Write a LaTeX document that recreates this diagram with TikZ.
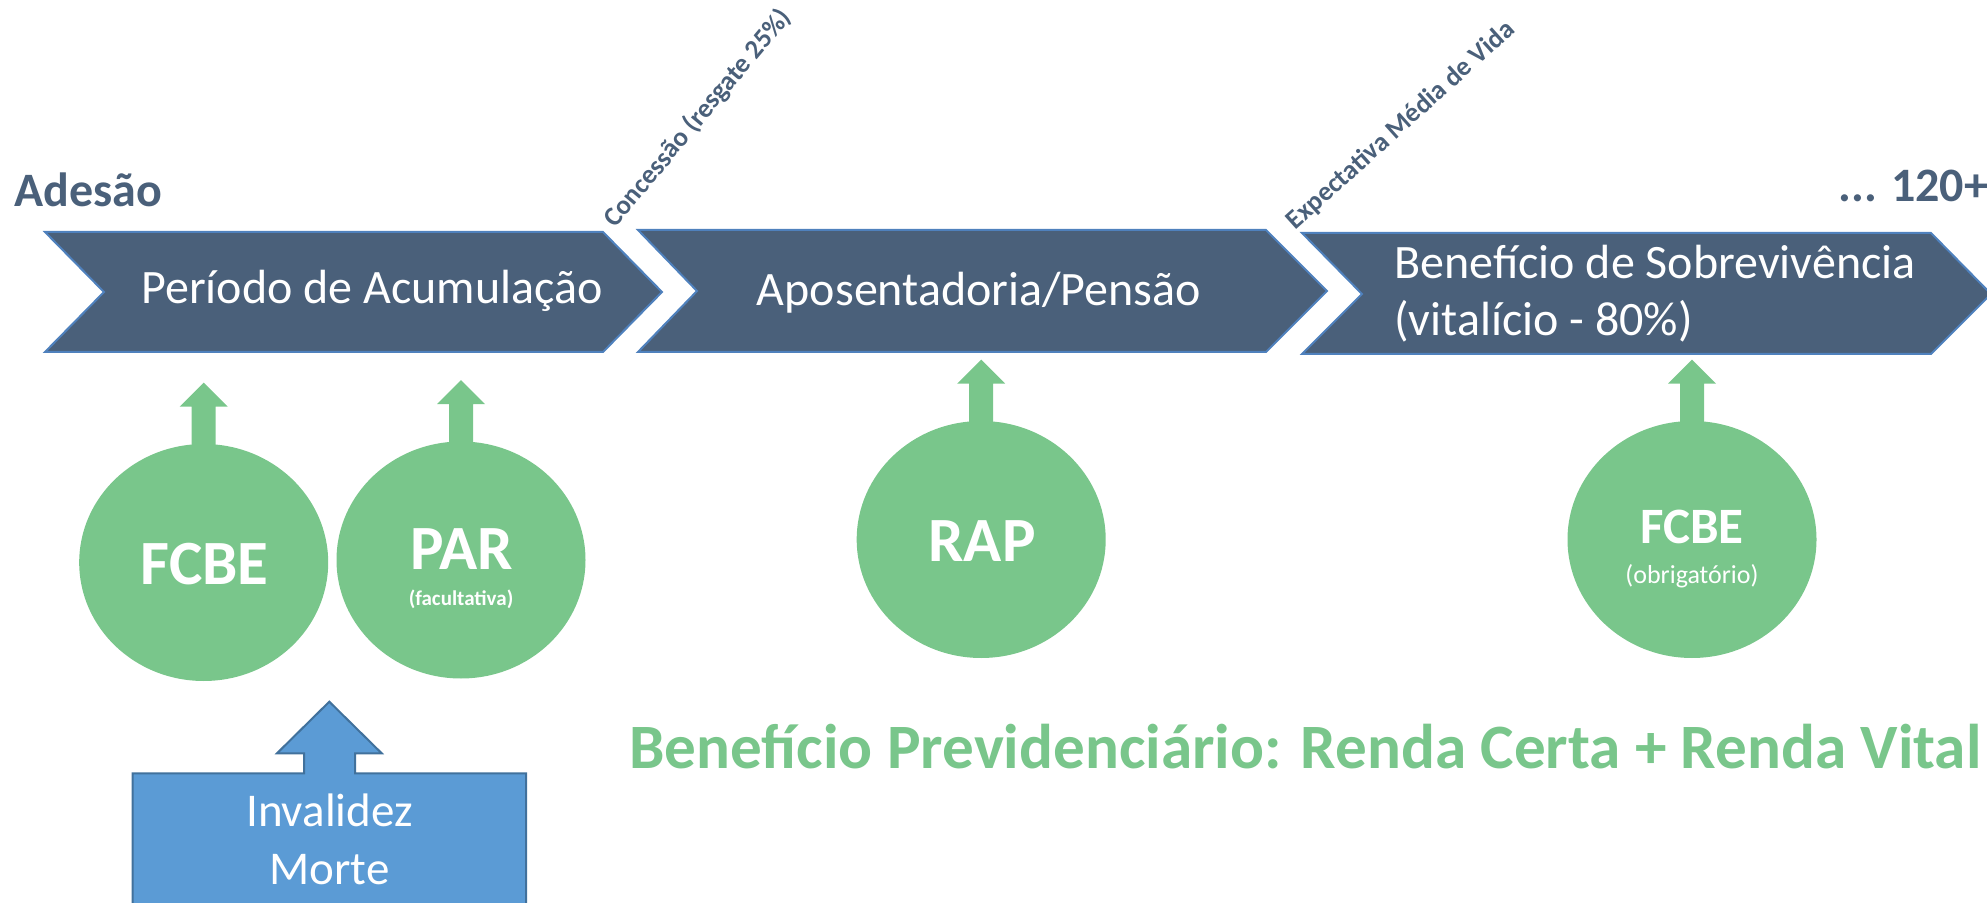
\documentclass[tikz,border=0pt]{standalone}
\usepackage{fontspec}
\setmainfont{Carlito}
\usetikzlibrary{calc,shapes.geometric}
\definecolor{slate}{RGB}{74,96,122}
\definecolor{edgeblue}{RGB}{79,129,189}
\definecolor{leaf}{RGB}{121,198,139}
\definecolor{sky}{RGB}{91,155,213}
\definecolor{skyedge}{RGB}{65,113,156}
\newcommand\upblock[1]{\fill[leaf] ($(#1.north)+(-12,6)$) -- ($(#1.north)+(-12,-37)$) -- ($(#1.north)+(-24,-37)$) -- ($(#1.north)+(0,-61)$) -- ($(#1.north)+(24,-37)$) -- ($(#1.north)+(12,-37)$) -- ($(#1.north)+(12,6)$) -- cycle;}
\begin{document}
\begin{tikzpicture}[x=0.5pt,y=-0.5pt,
  chev/.style={fill=slate,draw=edgeblue,line width=1pt,line join=miter},
  chevtext/.style={text=white,inner sep=0pt,font=\fontsize{24}{29}\selectfont},
  lab/.style={text=slate,inner sep=0pt,font=\bfseries\fontsize{24}{29}\selectfont},
  rot/.style={text=slate,inner sep=0pt,font=\bfseries\fontsize{13.5}{16}\selectfont},
  bubble/.style={ellipse,fill=leaf,minimum width=124.5pt,minimum height=118.5pt,inner sep=0pt},
  big/.style={text=white,inner sep=0pt,anchor=base,font=\bfseries\fontsize{31.5}{38}\selectfont},
  mid/.style={text=white,inner sep=0pt,anchor=base,font=\bfseries\fontsize{25.5}{31}\selectfont},
  tiny/.style={text=white,inner sep=0pt,anchor=base,font=\bfseries\fontsize{10.5}{13}\selectfont},
  note/.style={text=white,inner sep=0pt,anchor=base,font=\fontsize{13}{16}\selectfont},
  calltext/.style={text=white,inner sep=0pt,anchor=base,font=\fontsize{23.5}{28.7}\selectfont},
  headline/.style={text=leaf,inner sep=0pt,anchor=base west,font=\bfseries\fontsize{31.6}{39}\selectfont}]
\useasboundingbox (0,0) rectangle (1987,903);
\clip (0,0) rectangle (1987,903);
% chevrons
\draw[chev] (45,232) -- (603,232) -- (662,292) -- (603,352) -- (45,352) -- (104,292) -- cycle;
\draw[chev] (638,230) -- (1266,230) -- (1327,291) -- (1266,352) -- (638,352) -- (697,291) -- cycle;
\draw[chev] (1302,233) -- (1931,233) -- (1991,294) -- (1931,354) -- (1302,354) -- (1362,294) -- cycle;
\node[chevtext,anchor=base] (t1) at (372,304) {Período de Acumulação};
\node[chevtext,anchor=base] (t2) at (979,306) {Aposentadoria/Pensão};
\node[chevtext,anchor=base west] (t3) at (1394,279) {Benefício de Sobrevivência};
\node[chevtext,anchor=base west] (t3b) at (1394,336) {(vitalício - 80\%)};
% labels
\node[lab,anchor=base west] (adesao) at (14,207) {Adesão};
\node[lab,anchor=base west] (fim) at (1838,202) {... 120+};
\node[rot,anchor=base west,rotate=50] (conc) at (615,229) {Concessão (resgate 25\%)};
\node[rot,anchor=base west,rotate=42] (expect) at (1295,231) {Expectativa Média de Vida};
% circles
\node[bubble] (c1) at (203.7,562.5) {};
\node[bubble] (c2) at (461,560) {};
\node[bubble] (c3) at (981.2,539.5) {};
\node[bubble] (c4) at (1692,539.5) {};
\upblock{c1}
\upblock{c2}
\upblock{c3}
\upblock{c4}
\node[big] (fcbe1) at (204.5,584) {FCBE};
\node[big] (par) at (461.5,569) {PAR};
\node[tiny] (fac) at (461,605.7) {(facultativa)};
\node[big] (rap) at (982,561.7) {RAP};
\node[mid] (fcbe2) at (1692,544) {FCBE};
\node[note] (obr) at (1692,583) {(obrigatório)};
% blue callout
\draw[fill=sky,draw=skyedge,line width=1pt] (132.7,912) -- (132.7,773.3) -- (304,773.3) -- (304,753.3) -- (277,753.3) -- (329.3,701.7) -- (381.7,753.3) -- (355,753.3) -- (355,773.3) -- (526,773.3) -- (526,912) -- cycle;
\node[calltext] (inv) at (329.5,826.7) {Invalidez};
\node[calltext] (morte) at (329.5,884.3) {Morte};
% headline
\node[headline] (titulo) at (629,768) {Benefício Previdenciário: Renda Certa + Renda Vital};
\end{tikzpicture}
\end{document}
